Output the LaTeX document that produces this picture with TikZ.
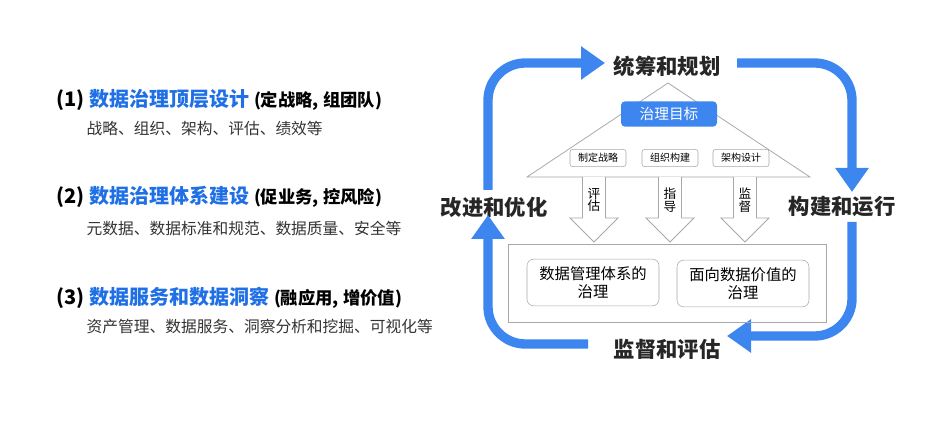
\documentclass[tikz,border=0pt]{standalone}
\usepackage{fontspec}
\setmainfont{Noto Sans CJK SC}
\usetikzlibrary{arrows.meta}
\definecolor{lb}{HTML}{3D86F0}
\definecolor{tb}{HTML}{1F6FE5}
\definecolor{gr}{HTML}{A8A8A8}
\tikzset{
 loop/.style={lb,line width=7pt,rounded corners=28pt,-{Triangle[width=24pt,length=18pt]}},
 lab/.style={font=\bfseries\fontsize{16}{18}\selectfont,text=black!85},
 small/.style={draw=gr,rounded corners=2pt,fill=white,font=\fontsize{7.5}{8}\selectfont,minimum width=42pt,minimum height=13pt,inner sep=1pt},
 inner/.style={draw=gr,rounded corners=5pt,fill=white,font=\fontsize{11.5}{13.5}\selectfont,align=center,minimum width=99pt,minimum height=35pt},
 hd/.style={anchor=west,font=\bfseries\fontsize{15}{17}\selectfont},
 sub/.style={anchor=west,font=\fontsize{11.8}{13}\selectfont,text=black!80},
 hollow/.style={draw=gr,fill=white,line width=0.6pt}
}
\begin{document}
\begin{tikzpicture}[x=0.75pt,y=-0.75pt]
\useasboundingbox (0,0) rectangle (942,427);
% left text
\node[hd] (h1) at (52,100) {(1) \textcolor{tb}{数据治理顶层设计} {\fontsize{13}{15}\selectfont(定战略, 组团队)}};
\node[sub] (s1) at (82,129) {战略、组织、架构、评估、绩效等};
\node[hd] (h2) at (52,197) {(2) \textcolor{tb}{数据治理体系建设} {\fontsize{13}{15}\selectfont(促业务, 控风险)}};
\node[sub] (s2) at (82,228) {元数据、数据标准和规范、数据质量、安全等};
\node[hd] (h3) at (52,298) {(3) \textcolor{tb}{数据服务和数据洞察} {\fontsize{13}{15}\selectfont(融应用, 增价值)}};
\node[sub] (s3) at (82,327) {资产管理、数据服务、洞察分析和挖掘、可视化等};
% loop labels
\node[lab] (t) at (667,66) {统筹和规划};
\node[lab] (r) at (842,207) {构建和运行};
\node[lab] (b) at (667,349) {监督和评估};
\node[lab] (l) at (494,207) {改进和优化};
% loop arrows
\coordinate (a1) at (488,190); \coordinate (a2) at (605,63);
\draw[loop] (a1) |- (a2);
\coordinate (b1) at (737,63); \coordinate (b2) at (852,192);
\draw[loop] (b1) -| (b2);
\coordinate (c1) at (852,222); \coordinate (c2) at (727,336);
\draw[loop] (c1) |- (c2);
\coordinate (d1) at (588,344); \coordinate (d2) at (488,215);
\draw[loop] (d1) -| (d2);
% triangle
\coordinate (ap) at (668,83); \coordinate (bl) at (527,177); \coordinate (br) at (810,177);
\draw[gr,line width=0.6pt] (bl) -- (ap) -- (br) -- cycle;
\node[fill=lb,rounded corners=3pt,text=white,font=\fontsize{11}{12}\selectfont,minimum width=72pt,minimum height=19pt] (goal) at (669,114) {治理目标};
\node[small] (k1) at (598,158) {制定战略};
\node[small] (k2) at (670,158) {组织构建};
\node[small] (k3) at (741,158) {架构设计};
% hollow arrows
\foreach \cx/\ta/\tb [count=\i] in {594/评/估,670/指/导,745/监/督}{
 \draw[hollow] (\cx-11.5,177) -- (\cx-11.5,218) -- (\cx-24,218) -- (\cx,242) -- (\cx+24,218) -- (\cx+11.5,218) -- (\cx+11.5,177);
 \node[font=\fontsize{9.5}{10.5}\selectfont,align=center,inner sep=0pt] (ha\i) at (\cx,200) {\ta\\[-1pt]\tb};
}
% big box
\node[draw=gr,line width=0.6pt,minimum width=239pt,minimum height=59pt] (big) at (667.5,283.5) {};
\node[inner] (i1) at (593,282.5) {数据管理体系的\\治理};
\node[inner] (i2) at (743,283.5) {面向数据价值的\\治理};
\end{tikzpicture}
\end{document}
